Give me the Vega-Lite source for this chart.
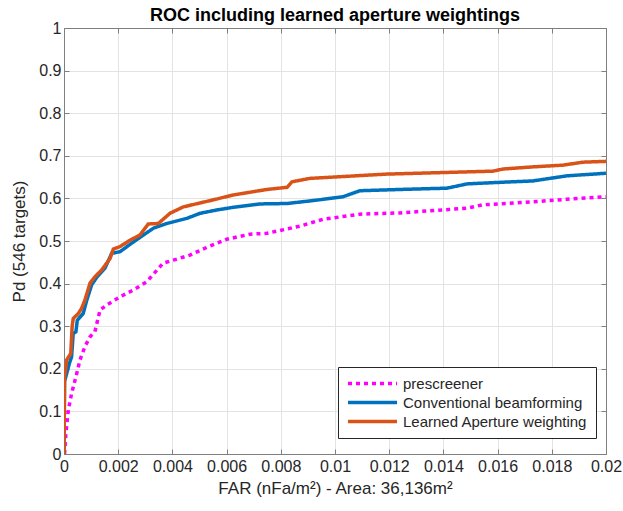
{
  "$schema": "https://vega.github.io/schema/vega-lite/v6.json",
  "width": 542,
  "height": 426,
  "autosize": "none",
  "padding": {"left": 64, "top": 28, "right": 17, "bottom": 57},
  "background": "white",
  "title": {
    "text": "ROC including learned aperture weightings",
    "font": "Liberation Sans",
    "fontSize": 18,
    "fontWeight": "bold",
    "color": "#000000",
    "anchor": "middle",
    "offset": -5
  },
  "config": {
    "view": {"stroke": "#7f7f7f", "strokeWidth": 1},
    "axis": {
      "labelFont": "Liberation Sans",
      "titleFont": "Liberation Sans",
      "labelColor": "#262626",
      "titleColor": "#262626",
      "titleFontWeight": "normal",
      "domainColor": "#7f7f7f",
      "tickColor": "#7f7f7f",
      "gridColor": "#e3e3e3",
      "gridWidth": 1,
      "labelFlush": false
    },
    "legend": {
      "title": null,
      "orient": "none",
      "legendX": 274,
      "legendY": 339,
      "fillColor": "white",
      "strokeColor": "#262626",
      "padding": 8,
      "rowPadding": 2,
      "clipHeight": 17,
      "labelFont": "Liberation Sans",
      "labelFontSize": 15,
      "labelColor": "#262626",
      "labelOffset": 4,
      "labelLimit": 400,
      "symbolType": "stroke",
      "symbolSize": 2400,
      "symbolStrokeWidth": 3.5
    }
  },
  "data": {
    "values": [
      {"s": "prescreener", "far": 0.00002, "pd": 0},
      {"s": "prescreener", "far": 0.00007, "pd": 0.048},
      {"s": "prescreener", "far": 0.00016, "pd": 0.103},
      {"s": "prescreener", "far": 0.00028, "pd": 0.142},
      {"s": "prescreener", "far": 0.00047, "pd": 0.189},
      {"s": "prescreener", "far": 0.00059, "pd": 0.221},
      {"s": "prescreener", "far": 0.00077, "pd": 0.252},
      {"s": "prescreener", "far": 0.00096, "pd": 0.275},
      {"s": "prescreener", "far": 0.00114, "pd": 0.287},
      {"s": "prescreener", "far": 0.00133, "pd": 0.338},
      {"s": "prescreener", "far": 0.00158, "pd": 0.350},
      {"s": "prescreener", "far": 0.00207, "pd": 0.369},
      {"s": "prescreener", "far": 0.00256, "pd": 0.385},
      {"s": "prescreener", "far": 0.00305, "pd": 0.404},
      {"s": "prescreener", "far": 0.00366, "pd": 0.448},
      {"s": "prescreener", "far": 0.00403, "pd": 0.455},
      {"s": "prescreener", "far": 0.00465, "pd": 0.467},
      {"s": "prescreener", "far": 0.00527, "pd": 0.485},
      {"s": "prescreener", "far": 0.006, "pd": 0.504},
      {"s": "prescreener", "far": 0.00686, "pd": 0.516},
      {"s": "prescreener", "far": 0.00749, "pd": 0.518},
      {"s": "prescreener", "far": 0.00871, "pd": 0.535},
      {"s": "prescreener", "far": 0.00956, "pd": 0.551},
      {"s": "prescreener", "far": 0.01092, "pd": 0.563},
      {"s": "prescreener", "far": 0.0124, "pd": 0.566},
      {"s": "prescreener", "far": 0.01487, "pd": 0.577},
      {"s": "prescreener", "far": 0.01546, "pd": 0.585},
      {"s": "prescreener", "far": 0.0173, "pd": 0.592},
      {"s": "prescreener", "far": 0.01856, "pd": 0.598},
      {"s": "prescreener", "far": 0.02, "pd": 0.604},

      {"s": "Conventional beamforming", "far": 0, "pd": 0},
      {"s": "Conventional beamforming", "far": 0.00002, "pd": 0.17},
      {"s": "Conventional beamforming", "far": 0.0002, "pd": 0.213},
      {"s": "Conventional beamforming", "far": 0.00028, "pd": 0.228},
      {"s": "Conventional beamforming", "far": 0.00034, "pd": 0.283},
      {"s": "Conventional beamforming", "far": 0.00044, "pd": 0.287},
      {"s": "Conventional beamforming", "far": 0.00049, "pd": 0.314},
      {"s": "Conventional beamforming", "far": 0.00071, "pd": 0.330},
      {"s": "Conventional beamforming", "far": 0.00084, "pd": 0.361},
      {"s": "Conventional beamforming", "far": 0.00102, "pd": 0.397},
      {"s": "Conventional beamforming", "far": 0.00121, "pd": 0.415},
      {"s": "Conventional beamforming", "far": 0.00151, "pd": 0.436},
      {"s": "Conventional beamforming", "far": 0.00176, "pd": 0.471},
      {"s": "Conventional beamforming", "far": 0.00207, "pd": 0.475},
      {"s": "Conventional beamforming", "far": 0.0025, "pd": 0.495},
      {"s": "Conventional beamforming", "far": 0.00293, "pd": 0.514},
      {"s": "Conventional beamforming", "far": 0.0033, "pd": 0.530},
      {"s": "Conventional beamforming", "far": 0.00379, "pd": 0.541},
      {"s": "Conventional beamforming", "far": 0.00453, "pd": 0.553},
      {"s": "Conventional beamforming", "far": 0.00502, "pd": 0.565},
      {"s": "Conventional beamforming", "far": 0.00565, "pd": 0.573},
      {"s": "Conventional beamforming", "far": 0.00624, "pd": 0.579},
      {"s": "Conventional beamforming", "far": 0.00723, "pd": 0.587},
      {"s": "Conventional beamforming", "far": 0.00823, "pd": 0.588},
      {"s": "Conventional beamforming", "far": 0.00934, "pd": 0.596},
      {"s": "Conventional beamforming", "far": 0.0103, "pd": 0.604},
      {"s": "Conventional beamforming", "far": 0.01092, "pd": 0.618},
      {"s": "Conventional beamforming", "far": 0.0124, "pd": 0.621},
      {"s": "Conventional beamforming", "far": 0.01413, "pd": 0.624},
      {"s": "Conventional beamforming", "far": 0.01487, "pd": 0.634},
      {"s": "Conventional beamforming", "far": 0.01583, "pd": 0.637},
      {"s": "Conventional beamforming", "far": 0.0173, "pd": 0.641},
      {"s": "Conventional beamforming", "far": 0.01793, "pd": 0.647},
      {"s": "Conventional beamforming", "far": 0.01856, "pd": 0.653},
      {"s": "Conventional beamforming", "far": 0.02, "pd": 0.659},

      {"s": "Learned Aperture weighting", "far": 0, "pd": 0},
      {"s": "Learned Aperture weighting", "far": 0.00002, "pd": 0.18},
      {"s": "Learned Aperture weighting", "far": 0.0001, "pd": 0.221},
      {"s": "Learned Aperture weighting", "far": 0.00025, "pd": 0.236},
      {"s": "Learned Aperture weighting", "far": 0.0003, "pd": 0.299},
      {"s": "Learned Aperture weighting", "far": 0.00034, "pd": 0.318},
      {"s": "Learned Aperture weighting", "far": 0.00053, "pd": 0.330},
      {"s": "Learned Aperture weighting", "far": 0.00065, "pd": 0.342},
      {"s": "Learned Aperture weighting", "far": 0.00077, "pd": 0.361},
      {"s": "Learned Aperture weighting", "far": 0.00096, "pd": 0.401},
      {"s": "Learned Aperture weighting", "far": 0.00114, "pd": 0.416},
      {"s": "Learned Aperture weighting", "far": 0.00139, "pd": 0.432},
      {"s": "Learned Aperture weighting", "far": 0.0017, "pd": 0.459},
      {"s": "Learned Aperture weighting", "far": 0.00182, "pd": 0.481},
      {"s": "Learned Aperture weighting", "far": 0.00207, "pd": 0.487},
      {"s": "Learned Aperture weighting", "far": 0.00244, "pd": 0.502},
      {"s": "Learned Aperture weighting", "far": 0.0028, "pd": 0.514},
      {"s": "Learned Aperture weighting", "far": 0.00311, "pd": 0.540},
      {"s": "Learned Aperture weighting", "far": 0.00348, "pd": 0.541},
      {"s": "Learned Aperture weighting", "far": 0.00391, "pd": 0.565},
      {"s": "Learned Aperture weighting", "far": 0.0044, "pd": 0.580},
      {"s": "Learned Aperture weighting", "far": 0.005, "pd": 0.589},
      {"s": "Learned Aperture weighting", "far": 0.0056, "pd": 0.598},
      {"s": "Learned Aperture weighting", "far": 0.00624, "pd": 0.608},
      {"s": "Learned Aperture weighting", "far": 0.00749, "pd": 0.621},
      {"s": "Learned Aperture weighting", "far": 0.00823, "pd": 0.626},
      {"s": "Learned Aperture weighting", "far": 0.00841, "pd": 0.639},
      {"s": "Learned Aperture weighting", "far": 0.00908, "pd": 0.647},
      {"s": "Learned Aperture weighting", "far": 0.0119, "pd": 0.657},
      {"s": "Learned Aperture weighting", "far": 0.01583, "pd": 0.664},
      {"s": "Learned Aperture weighting", "far": 0.0162, "pd": 0.669},
      {"s": "Learned Aperture weighting", "far": 0.0173, "pd": 0.674},
      {"s": "Learned Aperture weighting", "far": 0.0184, "pd": 0.678},
      {"s": "Learned Aperture weighting", "far": 0.01915, "pd": 0.685},
      {"s": "Learned Aperture weighting", "far": 0.02, "pd": 0.687}
    ]
  },
  "layer": [
    {
      "mark": {"type": "line", "strokeWidth": 3.5, "strokeCap": "butt", "clip": true},
      "encoding": {
        "x": {
          "field": "far", "type": "quantitative",
          "scale": {"domain": [0, 0.02], "nice": false, "zero": false},
          "axis": {
            "title": "FAR (nFa/m²) - Area: 36,136m²",
            "values": [0, 0.002, 0.004, 0.006, 0.008, 0.01, 0.012, 0.014, 0.016, 0.018, 0.02],
            "format": ".3~f",
            "labelFontSize": 16,
            "titleFontSize": 17,
            "tickSize": -5,
            "labelPadding": 9,
            "titlePadding": 6,
            "grid": true
          }
        },
        "y": {
          "field": "pd", "type": "quantitative",
          "scale": {"domain": [0, 1], "nice": false},
          "axis": {
            "title": "Pd (546 targets)",
            "values": [0, 0.1, 0.2, 0.3, 0.4, 0.5, 0.6, 0.7, 0.8, 0.9, 1],
            "format": ".1~f",
            "labelFontSize": 16,
            "titleFontSize": 17,
            "tickSize": -5,
            "labelPadding": 8,
            "titlePadding": 10,
            "grid": true
          }
        },
        "color": {
          "field": "s", "type": "nominal",
          "scale": {
            "domain": ["prescreener", "Conventional beamforming", "Learned Aperture weighting"],
            "range": ["#ff00ff", "#0072bd", "#d95319"]
          },
          "legend": {"title": null}
        },
        "strokeDash": {
          "field": "s", "type": "nominal",
          "scale": {
            "domain": ["prescreener", "Conventional beamforming", "Learned Aperture weighting"],
            "range": [[4, 4], [1, 0], [1, 0]]
          },
          "legend": {"title": null}
        }
      }
    },
    {
      "mark": {"type": "point", "opacity": 0},
      "encoding": {
        "x": {
          "field": "far", "type": "quantitative",
          "axis": {
            "orient": "top", "title": null, "labels": false, "grid": false,
            "values": [0, 0.002, 0.004, 0.006, 0.008, 0.01, 0.012, 0.014, 0.016, 0.018, 0.02],
            "tickSize": -5
          }
        },
        "y": {
          "field": "pd", "type": "quantitative",
          "axis": {
            "orient": "right", "title": null, "labels": false, "grid": false,
            "values": [0, 0.1, 0.2, 0.3, 0.4, 0.5, 0.6, 0.7, 0.8, 0.9, 1],
            "tickSize": -5
          }
        }
      }
    }
  ],
  "resolve": {"axis": {"x": "independent", "y": "independent"}}
}
